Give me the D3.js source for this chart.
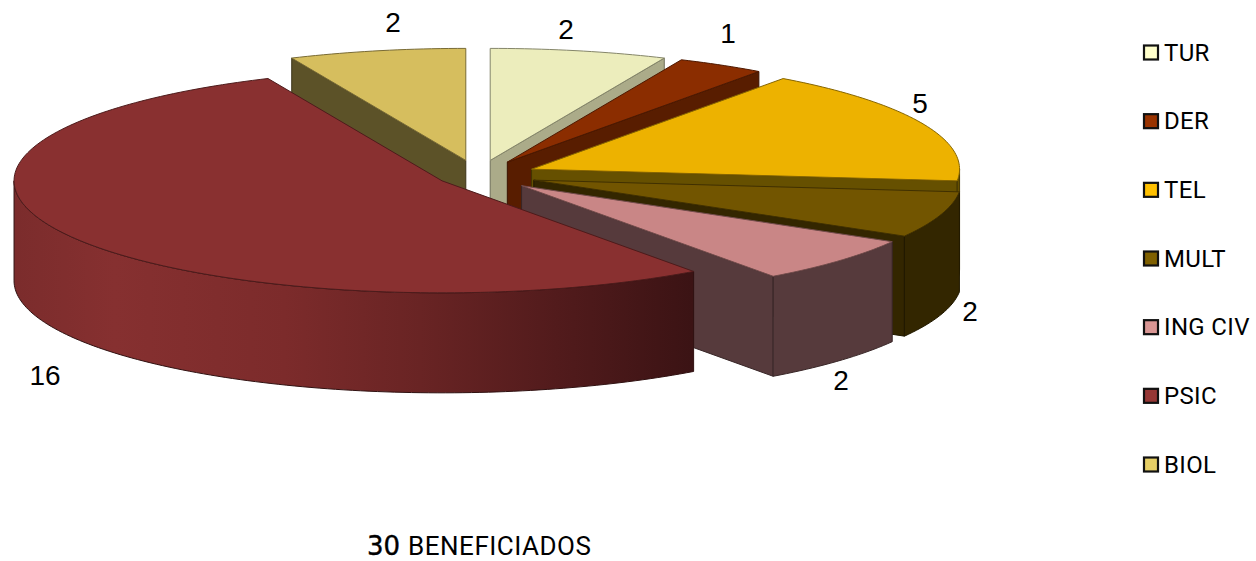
<!DOCTYPE html>
<html>
<head>
<meta charset="utf-8">
<script src="https://cdn.jsdelivr.net/npm/d3@7"></script>
<style>
	html, body { margin: 0; padding: 0; background: #fff; }
	svg { display: block; }
	text { font-family: "Roboto", "Liberation Sans", sans-serif; fill: #000; }
	.value { font-family: "Liberation Sans", sans-serif; }
</style>
</head>
<body>
<div id="chart"></div>
<script>
	var categories = ["TUR", "DER", "TEL", "MULT", "ING CIV", "PSIC", "BIOL"];
	var values = [2, 1, 5, 2, 2, 16, 2];
	var explodePct = [13.7, 13.7, 13.7, 13.7, 13.7, 9.7, 13.7];
	var legendColors = ["#ffffcc", "#993300", "#ffc000", "#7f6000", "#d99694", "#953735", "#e6cf66"];
	var topColors = ["#ecedbc", "#8b2d00", "#edb200", "#725500", "#c98686", "#893030", "#d6be5e"];
	var wallColors = ["#abab89", "#581d00", "#665000", "#332600", "#563a3c", "#4a1a1a", "#5c5228"];
	var totalLabel = "30";
	var totalText = "BENEFICIADOS";

	var width = 1256, height = 561;
	var cx = 478, cy = 175.4, rx = 428, ry = 112, depth = 100;

	var svg = d3.select("#chart")
				.append("svg")
				.attr("width", width)
				.attr("height", height);

	// horizontal shading of the big slice's rim
	var grad = svg.append("defs").append("linearGradient")
				  .attr("id", "rim")
				  .attr("gradientUnits", "userSpaceOnUse")
				  .attr("x1", 13).attr("x2", 692).attr("y1", 0).attr("y2", 0);
	grad.selectAll("stop")
		.data([[0, "#7b2c2c"], [0.15, "#863030"], [0.4, "#7c2b2b"], [0.6, "#692424"], [0.8, "#521b1c"], [1, "#3b1314"]])
		.enter().append("stop")
		.attr("offset", function(d){ return d[0]; })
		.attr("stop-color", function(d){ return d[1]; });

	var slices = d3.pie().sort(null)(values);
	// BIOL sits at the back, so it goes first; the rest follow clockwise
	var drawOrder = slices.slice(-1).concat(slices.slice(0, -1));

	function ex(a){ return rx * Math.sin(a); }
	function ey(a){ return -ry * Math.cos(a); }

	function apexOf(d){
		var mid = (d.startAngle + d.endAngle) / 2;
		var k = explodePct[d.index] / 100;
		return [cx + k * ex(mid), cy + k * ey(mid)];
	}

	function arcPoints(o, a0, a1, dy){
		var n = Math.max(2, Math.ceil((a1 - a0) / 0.02));
		return d3.range(n + 1).map(function(i){
			var a = a0 + (a1 - a0) * i / n;
			return [o[0] + ex(a), o[1] + ey(a) + dy];
		});
	}

	var line = d3.line();

	function radialWall(o, a){
		var p = [o[0] + ex(a), o[1] + ey(a)];
		return line([o, p, [p[0], p[1] + depth], [o[0], o[1] + depth]]) + "Z";
	}

	var groups = svg.selectAll(".slice")
					.data(drawOrder)
					.enter().append("g")
					.attr("class", "slice")
					.attr("stroke-linejoin", "round");

	groups.each(function(d){
		var g = d3.select(this);
		var o = apexOf(d);
		var i = d.index;
		var wall = wallColors[i];
		var edge = d3.color(wall).darker(1.2);

		// only the sides that face the viewer
		if (Math.sin(d.startAngle) < -1e-6){
			g.append("path").attr("d", radialWall(o, d.startAngle))
			 .attr("fill", wall).attr("stroke", edge).attr("stroke-width", 1);
		}
		if (Math.sin(d.endAngle) > 1e-6){
			g.append("path").attr("d", radialWall(o, d.endAngle))
			 .attr("fill", wall).attr("stroke", edge).attr("stroke-width", 1);
		}
		var a0 = Math.max(d.startAngle, Math.PI / 2), a1 = Math.min(d.endAngle, Math.PI * 1.5);
		if (a1 > a0){
			var upper = arcPoints(o, a0, a1, 0);
			var lower = arcPoints(o, a0, a1, depth).reverse();
			g.append("path").attr("d", line(upper.concat(lower)) + "Z")
			 .attr("fill", categories[i] == "PSIC" ? "url(#rim)" : wall)
			 .attr("stroke", edge).attr("stroke-width", 1);
		}
		g.append("path").attr("d", line([o].concat(arcPoints(o, d.startAngle, d.endAngle, 0))) + "Z")
		 .attr("fill", topColors[i])
		 .attr("stroke", d3.color(topColors[i]).darker(1.6))
		 .attr("stroke-width", 1);
	});

	// value labels, placed by hand the way the original chart has them
	var labelPos = [[566, 39], [728, 43], [920, 113], [970, 321], [841, 390], [45, 385], [393, 32]];
	svg.selectAll(".value")
	   .data(values)
	   .enter().append("text")
	   .attr("class", "value")
	   .attr("x", function(d, i){ return labelPos[i][0]; })
	   .attr("y", function(d, i){ return labelPos[i][1]; })
	   .attr("text-anchor", "middle")
	   .attr("font-size", 28)
	   .text(function(d){ return d; });

	var legendY = d3.scalePoint().domain(categories).range([52.5, 464.5]);

	var legend = svg.selectAll(".legend")
					.data(categories)
					.enter().append("g")
					.attr("class", "legend")
					.attr("transform", function(d){ return "translate(1144," + legendY(d) + ")"; });

	legend.append("rect")
		  .attr("x", 0).attr("y", -7)
		  .attr("width", 14).attr("height", 14)
		  .attr("fill", function(d, i){ return legendColors[i]; })
		  .attr("stroke", "#111")
		  .attr("stroke-width", 2.2);

	legend.append("text")
		  .attr("x", 20).attr("y", 8)
		  .attr("font-size", 24)
		  .attr("letter-spacing", 0.35)
		  .text(function(d){ return d; });

	var title = svg.append("text")
				   .attr("x", 367).attr("y", 555);
	title.append("tspan")
		 .attr("font-family", "DejaVu Sans")
		 .attr("font-size", 26)
		 .attr("stroke", "#000").attr("stroke-width", 0.4)
		 .text(totalLabel);
	title.append("tspan")
		 .attr("dx", 8)
		 .attr("font-size", 26)
		 .attr("letter-spacing", 0.5)
		 .text(totalText);
</script>
</body>
</html>
